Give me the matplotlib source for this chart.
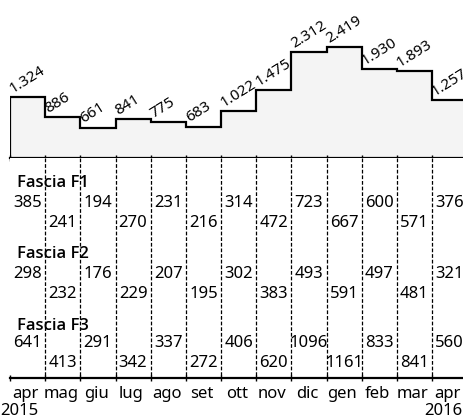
import matplotlib
matplotlib.use('Agg')
import matplotlib.pyplot as plt
import numpy as np

plt.rcParams['font.family'] = ['Noto Sans', 'DejaVu Sans']

# ---- data ----
months = ['apr', 'mag', 'giu', 'lug', 'ago', 'set', 'ott', 'nov', 'dic', 'gen', 'feb', 'mar', 'apr']
years = ['2015', '', '', '', '', '', '', '', '', '', '', '', '2016']
total = [1324, 886, 661, 841, 775, 683, 1022, 1475, 2312, 2419, 1930, 1893, 1257]
f1 = [385, 241, 194, 270, 231, 216, 314, 472, 723, 667, 600, 571, 376]
f2 = [298, 232, 176, 229, 207, 195, 302, 383, 493, 591, 497, 481, 321]
f3 = [641, 413, 291, 342, 337, 272, 406, 620, 1096, 1161, 833, 841, 560]
band_titles = ['Fascia F1', 'Fascia F2', 'Fascia F3']
bands = [f1, f2, f3]


def fmt(v):
    return f"{v:,}".replace(',', '.')


W, H = 463, 419
fig = plt.figure(figsize=(W / 100, H / 100), dpi=100)


def px_axes(l, t, r, b):
    return fig.add_axes([l / W, 1 - b / H, (r - l) / W, (b - t) / H])


ax_top = px_axes(10, 0, 463, 158)
ax_bot = px_axes(10, 158, 463, 378)

n = len(months)
xmax = 12.88
edges = np.arange(n + 1)

# ---- top step chart ----
ax_top.set_xlim(0, xmax)
ax_top.set_ylim(0, 3443)
ax_top.stairs(total, edges, baseline=0, fill=True, color='#f4f4f4', lw=0)
ax_top.stairs(total, edges, baseline=0, color='black', lw=1.6)
for s in ['top', 'left', 'right']:
    ax_top.spines[s].set_visible(False)
ax_top.spines['bottom'].set_linewidth(1.6)
ax_top.set_yticks([])
ax_top.set_xticks(range(n))
ax_top.tick_params(axis='x', direction='inout', length=5, width=1, labelbottom=False)
for i, v in enumerate(total):
    ax_top.annotate(fmt(v), (i, v), xytext=(2, 3), textcoords='offset points',
                    rotation=32, rotation_mode='anchor', ha='left', va='baseline',
                    fontsize=11, annotation_clip=False)

# ---- bottom bands ----
ax_bot.set_xlim(0, xmax)
ax_bot.set_ylim(220, 0)
for s in ['top', 'left', 'right']:
    ax_bot.spines[s].set_visible(False)
ax_bot.spines['bottom'].set_linewidth(1.6)
ax_bot.set_yticks([])
ax_bot.set_xticks(range(n))
ax_bot.tick_params(axis='x', direction='inout', length=5, width=1, labelbottom=False)
ax_bot.vlines(range(1, n), 0, 220, colors='black', linestyles=(0, (3, 1.5)), lw=0.9)

title_y = [29, 100, 172]
row1_y = [49, 120, 189]
row2_y = [69, 140, 209]
for b, (title, vals) in enumerate(zip(band_titles, bands)):
    ax_bot.text(0.2, title_y[b], title, ha='left', va='baseline', fontsize=12,
                family=['Open Sans', 'Noto Sans', 'DejaVu Sans'], fontweight='semibold')
    for i, v in enumerate(vals):
        y = row1_y[b] if i % 2 == 0 else row2_y[b]
        ax_bot.text(i + 0.5, y, str(v), ha='center', va='baseline', fontsize=12,
                    clip_on=False)

for i, m in enumerate(months):
    ax_bot.text(i + 0.45, 240, m, ha='center', va='baseline', fontsize=12, clip_on=False)

ax_bot.text(-0.28, 257, years[0], ha='left', va='baseline', fontsize=12, clip_on=False)
ax_bot.text(xmax - 0.02, 257, years[-1], ha='right', va='baseline', fontsize=12, clip_on=False)

fig.savefig('out.png', dpi=100)
